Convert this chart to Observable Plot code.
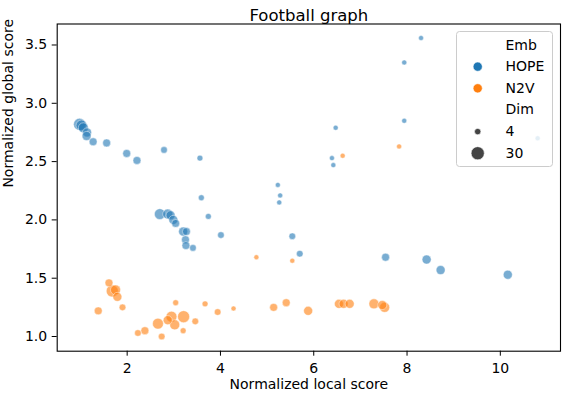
<!DOCTYPE html>
<html>
<head>
<meta charset="utf-8">
<script src="https://cdn.jsdelivr.net/npm/d3@7"></script>
<script src="https://cdn.jsdelivr.net/npm/@observablehq/plot@0.6"></script>
<style>
  html, body { margin: 0; padding: 0; background: #ffffff; }
  #chart { width: 562px; height: 396px; }
</style>
</head>
<body>
<div id="chart"></div>
<script>
// ---- data ----
const hopeX = [0.98, 1.02, 1.06, 1.14, 1.13, 1.27, 1.56, 1.99, 2.21, 2.79, 3.56,
  8.30, 7.94, 7.94, 6.47, 6.39, 6.42, 3.59, 2.70, 2.87, 2.93, 2.99, 3.04, 3.74,
  3.20, 3.27, 4.01, 3.25, 3.26, 3.41, 5.23, 5.28, 5.26, 5.54, 5.70, 7.54, 8.42,
  8.72, 10.16, 10.80];
const hopeY = [2.82, 2.81, 2.79, 2.75, 2.72, 2.67, 2.66, 2.57, 2.51, 2.60, 2.53,
  3.56, 3.35, 2.85, 2.79, 2.53, 2.47, 2.19, 2.05, 2.05, 2.04, 2.00, 1.97, 2.03,
  1.90, 1.90, 1.87, 1.83, 1.78, 1.76, 2.30, 2.21, 2.15, 1.86, 1.71, 1.68, 1.66,
  1.57, 1.53, 2.70];
const hopeDim = [30, 24, 20, 16, 16, 12, 12, 12, 12, 8, 6,
  4, 4, 4, 4, 4, 4, 6, 24, 20, 16, 16, 12, 6,
  16, 12, 8, 12, 12, 8, 4, 4, 4, 8, 8, 12, 16,
  16, 16, 4];

const n2vX = [7.83, 6.62, 4.77, 5.54, 1.61, 1.68, 1.75, 1.79, 1.38, 1.90, 3.04,
  3.67, 4.28, 3.94, 3.21, 2.95, 2.87, 2.66, 3.02, 3.46, 3.20, 2.38, 2.23, 2.74,
  5.14, 5.41, 5.88, 6.54, 6.64, 6.77, 7.29, 7.47, 7.52];
const n2vY = [2.63, 2.55, 1.68, 1.65, 1.46, 1.39, 1.40, 1.34, 1.22, 1.25, 1.29,
  1.28, 1.24, 1.21, 1.17, 1.17, 1.14, 1.11, 1.10, 1.13, 1.05, 1.05, 1.03, 1.00,
  1.25, 1.29, 1.22, 1.28, 1.28, 1.28, 1.28, 1.27, 1.25];
const n2vDim = [4, 4, 4, 4, 12, 30, 20, 16, 12, 8, 6,
  6, 4, 8, 30, 24, 16, 24, 20, 8, 6, 12, 8, 8,
  12, 12, 16, 16, 16, 16, 20, 16, 20];

const embNames = ["HOPE", "N2V"];
const embColors = ["#1f77b4", "#ff7f0e"];
const dimLegend = [4, 30];
const xTicks = [2, 4, 6, 8, 10];
const yTicks = [1.0, 1.5, 2.0, 2.5, 3.0, 3.5];
const titleText = "Football graph";
const xLabel = "Normalized local score";
const yLabel = "Normalized global score";
const legendTitles = ["Emb", "Dim"];

// ---- table built from the arrays ----
const rows = [
  ...hopeX.map((x, i) => ({emb: "HOPE", x, y: hopeY[i], dim: hopeDim[i]})),
  ...n2vX.map((x, i) => ({emb: "N2V", x, y: n2vY[i], dim: n2vDim[i]}))
];

const font = "DejaVu Sans";

const svg = Plot.plot({
  width: 562,
  height: 396,
  marginLeft: 56.7,
  marginRight: 2,
  marginTop: 23.5,
  marginBottom: 45.3,
  style: {fontFamily: font, fontSize: "14px", color: "#000", background: "#fff"},
  x: {domain: [0.5, 11.29], ticks: xTicks, tickSize: 5, tickPadding: 7, label: null, tickFormat: d3.format("d")},
  y: {domain: [0.874, 3.68], ticks: yTicks, tickSize: 5, tickPadding: 5, label: null, tickFormat: d3.format(".1f")},
  r: {type: "sqrt", domain: [4, 30], range: [2.5, 6]},
  color: {domain: embNames, range: embColors},
  marks: [
    Plot.dot(rows, {
      x: "x", y: "y", r: "dim", fill: "emb",
      fillOpacity: 0.6, stroke: "white", strokeOpacity: 0.6, strokeWidth: 0.75
    }),
    Plot.frame({stroke: "#000", strokeWidth: 1.1}),
    Plot.text([titleText], {text: d => d, frameAnchor: "top", dy: -14.7, fontSize: 16.5, fill: "#000"}),
    Plot.text([xLabel], {text: d => d, frameAnchor: "bottom", dy: 37.3, fontSize: 14, fill: "#000"}),
    Plot.text([yLabel], {text: d => d, frameAnchor: "left", dx: -48.7, rotate: -90, fontSize: 14, fill: "#000"})
  ]
});

document.getElementById("chart").appendChild(svg);

// ---- legend inside the axes (upper right) ----
const lg = d3.select(svg).append("g")
  .attr("font-family", font).attr("font-size", 14).attr("text-anchor", "start");
lg.append("rect")
  .attr("x", 456.5).attr("y", 31.5).attr("width", 96).attr("height", 135)
  .attr("rx", 3).attr("fill", "#fff").attr("fill-opacity", 0.8)
  .attr("stroke", "#cccccc").attr("stroke-width", 1);
const base0 = 49.5, step = 21.65, mx = 477.7, tx = 505.5;
const entries = [
  {label: legendTitles[0]},
  {label: embNames[0], color: embColors[0], r: 4.6},
  {label: embNames[1], color: embColors[1], r: 4.6},
  {label: legendTitles[1]},
  {label: String(dimLegend[0]), color: "#444444", r: 3.2},
  {label: String(dimLegend[1]), color: "#444444", r: 6.6}
];
entries.forEach((e, i) => {
  const yb = base0 + i * step;
  if (e.color) {
    lg.append("circle").attr("cx", mx).attr("cy", yb - 4.5).attr("r", e.r)
      .attr("fill", e.color).attr("stroke", "#fff").attr("stroke-width", 0.75).attr("stroke-opacity", 0.8);
  }
  lg.append("text").attr("x", tx).attr("y", yb).attr("text-anchor", "start").attr("fill", "#000").text(e.label);
});
</script>
</body>
</html>
